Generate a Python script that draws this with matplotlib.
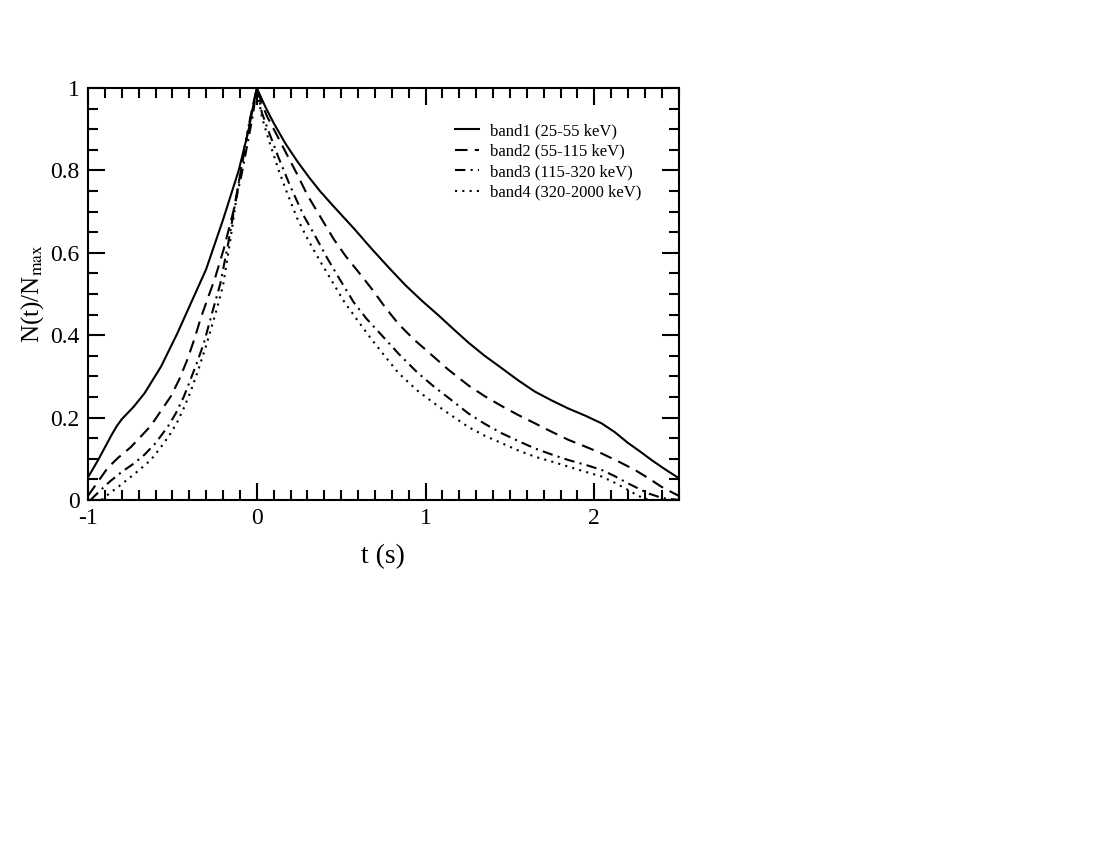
import matplotlib
matplotlib.use("Agg")
import matplotlib.pyplot as plt
from matplotlib.ticker import MultipleLocator

plt.rcParams['font.family'] = ['Liberation Serif', 'DejaVu Serif']
plt.rcParams['mathtext.fontset'] = 'stix'

# band1 (25-55 keV)
t1 = [-1.0, -0.94, -0.86, -0.83, -0.80, -0.73, -0.665, -0.567, -0.47, -0.39, -0.30, -0.20, -0.107, -0.05, 0.0,
      0.05, 0.10, 0.17, 0.24, 0.31, 0.376, 0.45, 0.515, 0.58, 0.633, 0.682, 0.78, 0.879, 0.98, 1.077, 1.17,
      1.254, 1.35, 1.451, 1.55, 1.648, 1.75, 1.846, 1.95, 2.043, 2.12, 2.201, 2.27, 2.339, 2.41, 2.5]
v1 = [0.055, 0.097, 0.158, 0.179, 0.196, 0.226, 0.259, 0.324, 0.405, 0.478, 0.56, 0.68, 0.80, 0.895, 1.0,
      0.955, 0.915, 0.865, 0.822, 0.783, 0.749, 0.715, 0.686, 0.657, 0.632, 0.609, 0.565, 0.522, 0.483, 0.448, 0.413,
      0.382, 0.350, 0.320, 0.290, 0.263, 0.241, 0.222, 0.204, 0.186, 0.165, 0.138, 0.118, 0.097, 0.077, 0.053]

# band2 (55-115 keV)
t2 = [-1.0, -0.94, -0.883, -0.82, -0.747, -0.68, -0.628, -0.57, -0.51, -0.46, -0.412, -0.37, -0.333, -0.29, -0.25,
      -0.195, -0.136, -0.087, -0.04, 0.0,
      0.03, 0.061, 0.12, 0.179, 0.24, 0.30, 0.38, 0.456, 0.53, 0.613, 0.682, 0.76, 0.84, 0.93, 1.025, 1.13, 1.254,
      1.35, 1.451, 1.55, 1.648, 1.75, 1.846, 1.95, 2.043, 2.14, 2.24, 2.32, 2.398, 2.5]
v2 = [0.010, 0.045, 0.078, 0.103, 0.128, 0.157, 0.180, 0.215, 0.251, 0.292, 0.34, 0.39, 0.44, 0.49, 0.535,
      0.61, 0.705, 0.815, 0.925, 1.0,
      0.962, 0.931, 0.885, 0.838, 0.79, 0.74, 0.685, 0.633, 0.59, 0.548, 0.512, 0.468, 0.427, 0.39, 0.356, 0.318, 0.278,
      0.252, 0.228, 0.206, 0.186, 0.165, 0.146, 0.129, 0.113, 0.094, 0.073, 0.053, 0.032, 0.01]

# band3 (115-320 keV)
t3 = [-0.985, -0.93, -0.87, -0.80, -0.73, -0.665, -0.60, -0.527, -0.48, -0.432, -0.39, -0.353, -0.314, -0.264,
      -0.216, -0.166, -0.128, -0.09, -0.057, -0.025, 0.0,
      0.03, 0.07, 0.13, 0.2, 0.278, 0.347, 0.42, 0.5, 0.574, 0.65, 0.74, 0.84, 0.95, 1.05, 1.136, 1.254, 1.35,
      1.451, 1.55, 1.648, 1.75, 1.846, 1.95, 2.043, 2.12, 2.201, 2.26, 2.32, 2.40, 2.5]
v3 = [0.0, 0.022, 0.045, 0.068, 0.088, 0.11, 0.138, 0.178, 0.21, 0.251, 0.295, 0.335, 0.38, 0.455,
      0.525, 0.63, 0.72, 0.79, 0.86, 0.93, 1.0,
      0.94, 0.895, 0.83, 0.76, 0.69, 0.64, 0.585, 0.53, 0.48, 0.44, 0.40, 0.355, 0.31, 0.275, 0.248, 0.21, 0.185,
      0.162, 0.143, 0.125, 0.11, 0.097, 0.085, 0.073, 0.058, 0.04, 0.028, 0.016, 0.005, 0.0]

# band4 (320-2000 keV)
t4 = [-0.92, -0.87, -0.817, -0.75, -0.69, -0.628, -0.57, -0.51, -0.47, -0.43, -0.39, -0.343, -0.30, -0.244,
      -0.200, -0.157, -0.116, -0.08, -0.045, -0.02, 0.0,
      0.03, 0.07, 0.13, 0.18, 0.239, 0.308, 0.376, 0.45, 0.52, 0.604, 0.68, 0.761, 0.84, 0.95, 1.05, 1.136, 1.254,
      1.35, 1.451, 1.55, 1.648, 1.75, 1.846, 1.95, 2.043, 2.12, 2.201, 2.26, 2.32, 2.4, 2.5]
v4 = [0.0, 0.017, 0.033, 0.055, 0.075, 0.097, 0.127, 0.162, 0.19, 0.225, 0.265, 0.32, 0.375, 0.453,
      0.52, 0.63, 0.745, 0.84, 0.915, 0.96, 1.0,
      0.93, 0.875, 0.80, 0.745, 0.684, 0.628, 0.579, 0.528, 0.48, 0.432, 0.39, 0.348, 0.308, 0.266, 0.235, 0.21, 0.177,
      0.156, 0.138, 0.12, 0.105, 0.093, 0.081, 0.068, 0.057, 0.042, 0.024, 0.01, 0.0, 0.0, 0.0]

labels = ["band1 (25-55 keV)", "band2 (55-115 keV)", "band3 (115-320 keV)", "band4 (320-2000 keV)"]

fig = plt.figure(figsize=(11, 8.5), dpi=100)
ax = fig.add_axes([0.08, 0.4118, 0.537, 0.4847])

lw = 1.5
ax.plot(t1, v1, color='black', lw=lw, linestyle='-', label=labels[0])
ax.plot(t2, v2, color='black', lw=lw, linestyle=(0, (6, 3.5)), label=labels[1])
ax.plot(t3, v3, color='black', lw=lw, linestyle=(0, (5, 2.5, 1, 2.5)), label=labels[2])
ax.plot(t4, v4, color='black', lw=lw, linestyle=(0, (1, 2.5)), label=labels[3])

ax.set_xlim(-1, 2.5)
ax.set_ylim(0, 1)
ax.xaxis.set_minor_locator(MultipleLocator(0.1))
ax.yaxis.set_minor_locator(MultipleLocator(0.05))
ax.set_xticks([-1, 0, 1, 2])
ax.set_xticklabels(['-1', '0', '1', '2'])
ax.set_yticks([0, 0.2, 0.4, 0.6, 0.8, 1.0])
ax.set_yticklabels(['0', '0.2', '0.4', '0.6', '0.8', '1'])

ax.tick_params(which='both', direction='in', top=True, right=True, width=1.5, labelsize=17)
ax.tick_params(which='major', length=12, pad=6)
ax.tick_params(which='minor', length=7)
for s in ax.spines.values():
    s.set_linewidth(1.5)

ax.set_xlabel('t (s)', fontsize=20, labelpad=11)
ax.set_ylabel(r'N(t)/N$_{\mathrm{max}}$', fontsize=18, labelpad=3)

leg = ax.legend(loc='upper left', bbox_to_anchor=(0.621, 0.915), frameon=False, fontsize=12,
                borderpad=0, borderaxespad=0,
                handlelength=1.45, handletextpad=0.66, labelspacing=0.27)

fig.savefig('out.png', dpi=100)
